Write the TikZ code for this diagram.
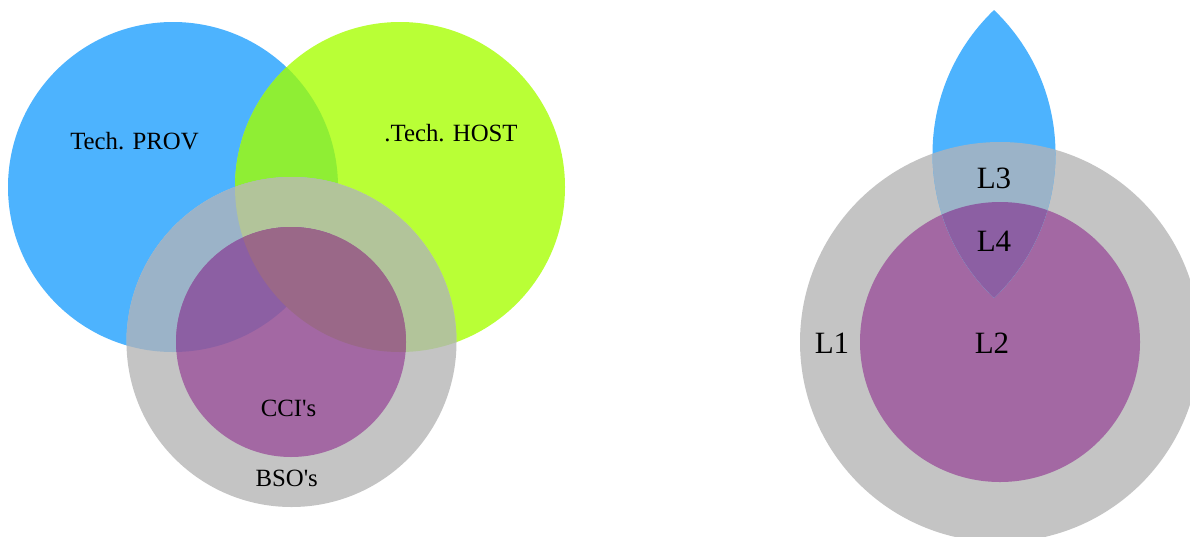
\documentclass[tikz,border=0pt]{standalone}
\usepackage{fontspec}
\setmainfont{Liberation Serif}[Ligatures=TeXOff]

% fills for single sets and their overlaps
\definecolor{provblue}{HTML}{4DB3FE}
\definecolor{hostgreen}{HTML}{B9FF36}
\definecolor{provhost}{HTML}{8FEE34}
\definecolor{bsogray}{HTML}{C4C4C4}
\definecolor{grayblue}{HTML}{9BB3C8}
\definecolor{graygreen}{HTML}{B2C49A}
\definecolor{ccipurple}{HTML}{A368A3}
\definecolor{purpleblue}{HTML}{8C5FA3}
\definecolor{purplegreen}{HTML}{9A6888}

\begin{document}
\begin{tikzpicture}[x=1pt,y=-1pt,
  setlabel/.style={inner sep=0pt,anchor=base,font=\fontsize{24.8}{28}\selectfont},
  levellabel/.style={inner sep=0pt,anchor=base,font=\fontsize{31}{34}\selectfont}]
\useasboundingbox (0,0) rectangle (1190,536);

% left diagram: sets
\def\provC{(173,187) circle (165pt)}
\def\hostC{(400,187) circle (165pt)}
\def\bsoC{(291.5,342) circle (165pt)}
\def\cciC{(291,342) circle (115pt)}

\fill[provblue] \provC;
\fill[hostgreen] \hostC;
\begin{scope}\clip \provC; \fill[provhost] \hostC;\end{scope}
\fill[bsogray] \bsoC;
\begin{scope}\clip \bsoC; \fill[grayblue] \provC;\end{scope}
\begin{scope}\clip \bsoC; \fill[graygreen] \hostC;\end{scope}
\fill[ccipurple] \cciC;
\begin{scope}\clip \cciC; \fill[purpleblue] \provC;\end{scope}
\begin{scope}\clip \cciC; \fill[purplegreen] \hostC;\end{scope}

\node[setlabel] (prov) at (134.5,149) {Tech. PROV};
\node[setlabel] (host) at (451,141.7) {.Tech. HOST};
\node[setlabel] (cci) at (288.5,416) {CCI's};
\node[setlabel] (bso) at (286.7,486) {BSO's};

% right diagram: nested levels with a lens on top
\def\outerR{(1000,342) circle (200pt)}
\def\innerR{(1000,342) circle (140pt)}
\def\lensA{(1131.8,154) circle (199.3pt)}
\def\lensB{(856.2,154) circle (199.3pt)}

\fill[bsogray] \outerR;
\fill[ccipurple] \innerR;
\begin{scope}
  \clip \lensA;
  \fill[provblue] \lensB;
  \clip \outerR;
  \fill[grayblue] \lensB;
  \clip \innerR;
  \fill[purpleblue] \lensB;
\end{scope}

\node[levellabel] (l1) at (832,353) {L1};
\node[levellabel] (l2) at (992,353) {L2};
\node[levellabel] (l3) at (994,188.3) {L3};
\node[levellabel] (l4) at (994,251.7) {L4};
\end{tikzpicture}
\end{document}
